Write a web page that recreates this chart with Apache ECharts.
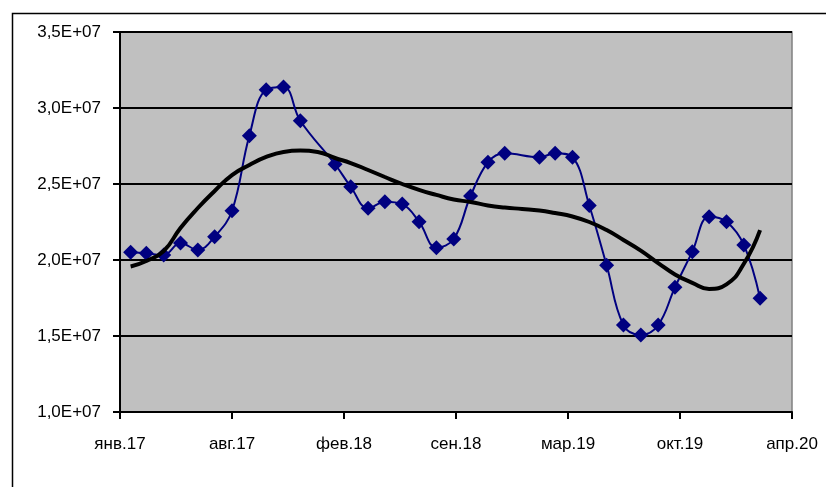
<!DOCTYPE html>
<html>
<head>
<meta charset="utf-8">
<script src="https://cdn.jsdelivr.net/npm/echarts@6/dist/echarts.min.js"></script>
<style>html,body{margin:0;padding:0;background:#fff}#c{width:826px;height:487px}</style>
</head>
<body>
<div id="c"></div>
<script>
// Monthly observation dates (year, month)
var months = ['2017-02','2017-03','2017-04','2017-05','2017-06','2017-07','2017-08','2017-09','2017-10','2017-11','2017-12',
  '2018-01','2018-02','2018-03','2018-04','2018-05','2018-06','2018-07','2018-08','2018-09','2018-10','2018-11','2018-12',
  '2019-01','2019-02','2019-03','2019-04','2019-05','2019-06','2019-07','2019-08','2019-09','2019-10','2019-11','2019-12',
  '2020-01','2020-02','2020-03'];
// Observed series (null = no observation that month)
var observed = [2.051e7,2.044e7,2.033e7,2.112e7,2.066e7,2.153e7,2.324e7,2.818e7,3.120e7,3.138e7,2.916e7,
  null,2.630e7,2.482e7,2.340e7,2.384e7,2.368e7,2.252e7,2.081e7,2.138e7,2.421e7,2.643e7,2.702e7,
  null,2.676e7,2.702e7,2.676e7,2.359e7,1.965e7,1.572e7,1.507e7,1.572e7,1.820e7,2.055e7,2.285e7,
  2.252e7,2.099e7,1.748e7];
// Trend line values
var trend = [1.957e7,1.993e7,2.059e7,2.211e7,2.342e7,2.454e7,2.559e7,2.625e7,2.678e7,2.711e7,2.720e7,
  2.711e7,2.671e7,2.638e7,2.592e7,2.546e7,2.500e7,2.461e7,2.428e7,2.398e7,2.382e7,2.359e7,2.345e7,
  2.336e7,2.326e7,2.309e7,2.286e7,2.250e7,2.197e7,2.132e7,2.062e7,1.980e7,1.905e7,1.850e7,1.810e7,
  1.840e7,1.975e7,2.197e7];
// X tick labels (every 200 days from axis start)
var xTickLabels = ['янв.17','авг.17','фев.18','сен.18','мар.19','окт.19','апр.20'];
var axisStart = Date.UTC(2017, 0, 13);

function dayOf(m) {
  var p = m.split('-');
  return (Date.UTC(+p[0], +p[1] - 1, 1) - axisStart) / 86400000;
}
var obsData = months.map(function (m, i) { return [dayOf(m), observed[i]]; });
var trendData = months.map(function (m, i) { return [dayOf(m), trend[i]]; });

var font = "'Liberation Sans', Arial, sans-serif";
var chart = echarts.init(document.getElementById('c'), null, {renderer: 'canvas'});
chart.setOption({
  animation: false,
  backgroundColor: '#ffffff',
  graphic: [{
    type: 'rect', left: 10, top: 11, silent: true, z: 100,
    shape: {x: 0, y: 0, width: 840, height: 500},
    style: {fill: 'none', stroke: '#000', lineWidth: 1.5}
  }],
  grid: {
    left: 120, right: 34, top: 32, bottom: 75,
    show: true, backgroundColor: '#c0c0c0', borderColor: '#808080', borderWidth: 1.5
  },
  xAxis: {
    type: 'value', min: 0, max: 1200, interval: 200,
    axisLine: {show: true, lineStyle: {color: '#000', width: 2}},
    axisTick: {show: true, inside: false, length: 7, lineStyle: {color: '#000', width: 2}},
    splitLine: {show: false},
    axisLabel: {
      margin: 24, color: '#000', fontSize: 17, fontFamily: font,
      formatter: function (v) { return xTickLabels[Math.round(v / 200)] || ''; }
    }
  },
  yAxis: {
    type: 'value', min: 1e7, max: 3.5e7, interval: 5e6,
    axisLine: {show: true, lineStyle: {color: '#000', width: 2}},
    axisTick: {show: true, inside: false, length: 7, lineStyle: {color: '#000', width: 2}},
    splitLine: {show: true, lineStyle: {color: '#000', width: 2}},
    axisLabel: {
      margin: 19, color: '#000', fontSize: 17, fontFamily: font,
      formatter: function (v) { return (v / 1e7).toFixed(1).replace('.', ',') + 'E+07'; }
    }
  },
  series: [{
    type: 'line', data: obsData, connectNulls: true, smooth: 0.4,
    symbol: 'diamond', symbolSize: 15, showAllSymbol: true,
    lineStyle: {color: '#000080', width: 2},
    itemStyle: {color: '#000080', borderColor: '#000080', borderWidth: 0},
    z: 3
  }, {
    type: 'line', data: trendData, smooth: 0.5, symbol: 'none',
    lineStyle: {color: '#000', width: 4},
    z: 4
  }]
});
</script>
</body>
</html>
